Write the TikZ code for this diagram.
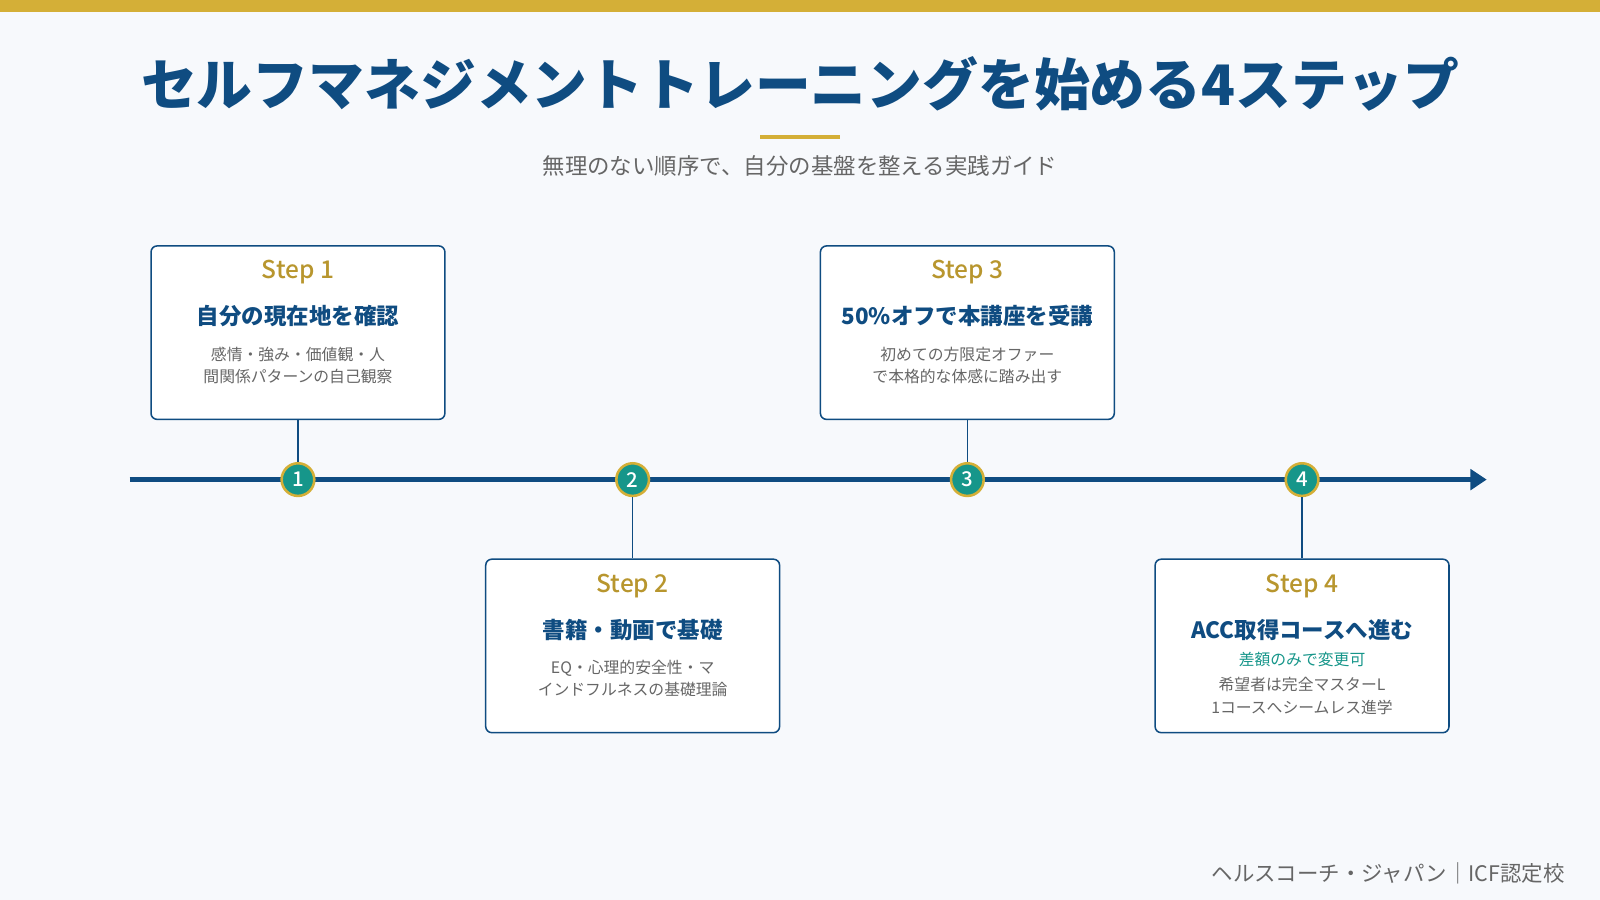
\documentclass[tikz,border=0pt]{standalone}
\usepackage{fontspec}
\setmainfont{Noto Sans CJK JP}
\newfontfamily\med{Noto Sans CJK JP Medium}
\usetikzlibrary{arrows.meta}
\definecolor{navy}{HTML}{0F4C81}
\definecolor{gold}{HTML}{D4AF37}
\definecolor{goldt}{HTML}{B8962E}
\definecolor{teal}{HTML}{16968A}
\definecolor{bg}{HTML}{F7F9FC}
\definecolor{gr}{HTML}{666666}
\begin{document}
\begin{tikzpicture}[x=1pt,y=-1pt,
 card/.style={draw=navy,line width=1.5pt,fill=white,rounded corners=6pt,minimum width=288pt,minimum height=170pt},
 steplbl/.style={text=goldt,font=\fontsize{24}{28}\selectfont\med},
 head/.style={text=navy,font=\fontsize{22}{26}\selectfont\bfseries},
 desc/.style={text=gr,font=\fontsize{15.5}{22}\selectfont,align=center},
 dot/.style={circle,fill=teal,draw=gold,line width=2.5pt,minimum size=32pt,inner sep=0,text=white,font=\fontsize{20}{20}\selectfont\med},
 conn/.style={navy,line width=1.3pt}]
\useasboundingbox (0,0) rectangle (1568,882);
\fill[bg] (0,0) rectangle (1568,882);
\fill[gold] (0,0) rectangle (1568,12);
\node[text=navy,font=\fontsize{54.7}{64}\selectfont\bfseries] (title) at (784,82) {セルフマネジメントトレーニングを始める4ステップ};
\draw[gold,line width=4pt] (745,134) -- (823,134);
\node[text=gr,font=\fontsize{22}{26}\selectfont] (sub) at (784,163) {無理のない順序で、自分の基盤を整える実践ガイド};
\coordinate (ls) at (127,470); \coordinate (le) at (1457,470);
\draw[navy,line width=5pt,-{Triangle[length=16pt,width=20pt]}] (ls) -- (le);
\node[card] (c1) at (292,326) {};
\node[card] (c3) at (948,326) {};
\node[card] (c2) at (620,633) {};
\node[card] (c4) at (1276,633) {};
\node[dot] (d1) at (292,470) {1};
\node[dot] (d2) at (620,470) {2};
\node[dot] (d3) at (948,470) {3};
\node[dot] (d4) at (1276,470) {4};
\draw[conn] (c1.south) -- (d1); \draw[conn] (c3.south) -- (d3);
\draw[conn] (c2.north) -- (d2); \draw[conn] (c4.north) -- (d4);
\node[steplbl] (s1) at (292,267) {Step 1};
\node[head] (h1) at (292,310) {自分の現在地を確認};
\node[desc] (t1) at (292,358) {感情・強み・価値観・人\\間関係パターンの自己観察};
\node[steplbl] (s3) at (948,267) {Step 3};
\node[head] (h3) at (948,310) {50\%オフで本講座を受講};
\node[desc] (t3) at (948,358) {初めての方限定オファー\\で本格的な体感に踏み出す};
\node[steplbl] (s2) at (620,574) {Step 2};
\node[head] (h2) at (620,617) {書籍・動画で基礎};
\node[desc] (t2) at (620,665) {EQ・心理的安全性・マ\\インドフルネスの基礎理論};
\node[steplbl] (s4) at (1276,574) {Step 4};
\node[head] (h4) at (1276,617) {ACC取得コースへ進む};
\node[text=teal,font=\fontsize{15.5}{20}\selectfont] (n4) at (1276,646) {差額のみで変更可};
\node[desc] (t4) at (1276,682) {希望者は完全マスターL\\1コースへシームレス進学};
\node[text=gr,font=\fontsize{21}{26}\selectfont,anchor=east] (ft) at (1537,856) {ヘルスコーチ・ジャパン｜ICF認定校};
\end{tikzpicture}
\end{document}
